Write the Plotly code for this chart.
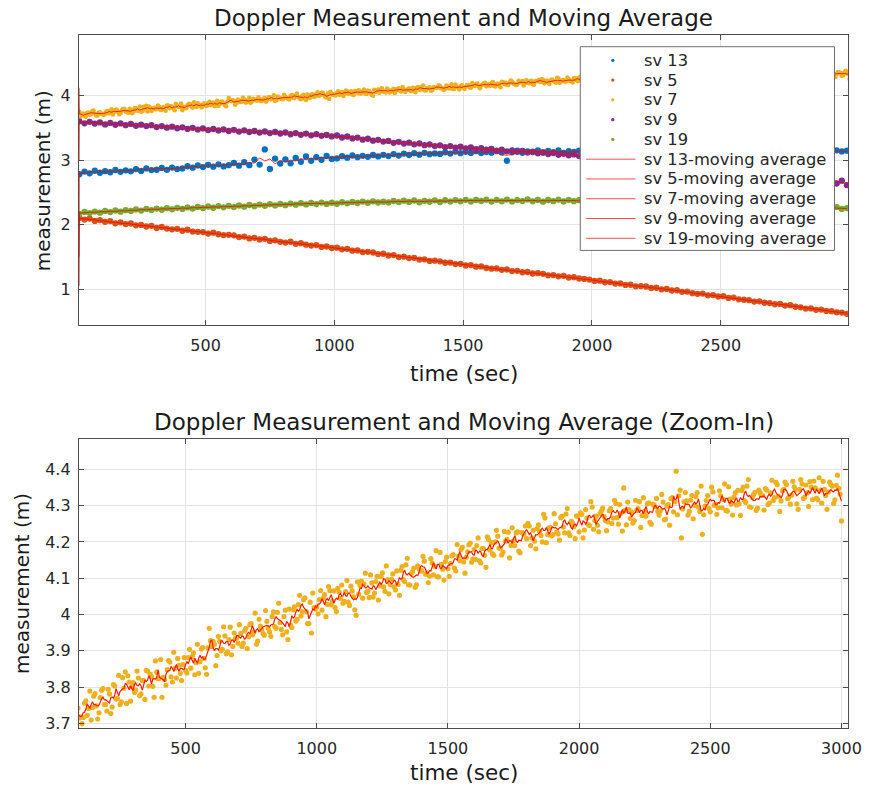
import plotly.graph_objects as go
import pandas as pd

# ---------------- data ----------------
series_names = ["sv 13", "sv 5", "sv 7", "sv 9", "sv 19"]
series_colors = ["#0072BD", "#D95319", "#EDB120", "#7E2F8E", "#77AC30"]

time_20s = list(range(10, 3000, 20))    # sample times of sv 13, sv 5, sv 9, sv 19
time_10s = list(range(10, 3001, 10))    # sample times of sv 7
time_10s_half = list(range(15, 3000, 10))  # intermediate sample times of sv 7

sv13 = [2.781, 2.823, 2.796, 2.835, 2.804, 2.829, 2.812, 2.847, 2.818, 2.842,
        2.826, 2.861, 2.833, 2.872, 2.845, 2.851, 2.879, 2.849, 2.884, 2.861,
        2.872, 2.905, 2.883, 2.918, 2.892, 2.927, 2.899, 2.935, 2.903, 2.921,
        2.955, 2.914, 2.968, 2.921, 3.008, 2.931, 3.166, 2.862, 3.024, 2.946,
        3.012, 2.951, 3.034, 2.973, 3.058, 2.989, 3.047, 3.006, 3.064, 3.018,
        3.027, 3.061, 3.038, 3.072, 3.045, 3.066, 3.051, 3.079, 3.058, 3.082,
        3.063, 3.094, 3.071, 3.101, 3.079, 3.108, 3.085, 3.113, 3.092, 3.104,
        3.096, 3.121, 3.102, 3.133, 3.107, 3.128, 3.112, 3.139, 3.109, 3.126,
        3.115, 3.138, 3.119, 2.990, 3.121, 3.146, 3.113, 3.137, 3.124, 3.149,
        3.118, 3.144, 3.125, 3.151, 3.112, 3.139, 3.127, 3.148, 3.116, 3.141,
        3.122, 3.147, 3.113, 3.138, 3.129, 3.152, 3.117, 3.143, 3.126, 3.135,
        3.119, 3.146, 3.124, 3.151, 3.115, 3.139, 3.128, 3.145, 3.121, 3.137,
        3.124, 3.149, 3.118, 3.142, 3.131, 3.155, 3.122, 3.146, 3.127, 3.141,
        3.128, 3.151, 3.123, 3.147, 3.136, 3.158, 3.125, 3.149, 3.132, 3.145,
        3.131, 3.156, 3.127, 3.149, 3.138, 3.161, 3.129, 3.152, 3.135, 3.147]

sv5 = [2.103, 2.079, 2.094, 2.058, 2.071, 2.043, 2.055, 2.021, 2.036, 2.009,
       2.018, 1.989, 1.996, 1.971, 1.982, 1.948, 1.963, 1.939, 1.927, 1.935,
       1.905, 1.921, 1.893, 1.889, 1.884, 1.862, 1.876, 1.851, 1.838, 1.842,
       1.834, 1.808, 1.815, 1.786, 1.795, 1.771, 1.780, 1.748, 1.757, 1.733,
       1.722, 1.735, 1.702, 1.712, 1.689, 1.676, 1.684, 1.655, 1.661, 1.638,
       1.643, 1.617, 1.625, 1.596, 1.601, 1.574, 1.579, 1.568, 1.543, 1.549,
       1.522, 1.528, 1.497, 1.505, 1.481, 1.486, 1.459, 1.463, 1.438, 1.442,
       1.431, 1.409, 1.412, 1.388, 1.392, 1.367, 1.374, 1.349, 1.352, 1.328,
       1.318, 1.322, 1.299, 1.305, 1.280, 1.284, 1.262, 1.266, 1.243, 1.247,
       1.238, 1.215, 1.219, 1.199, 1.207, 1.181, 1.186, 1.165, 1.158, 1.149,
       1.128, 1.131, 1.107, 1.110, 1.086, 1.089, 1.065, 1.068, 1.044, 1.047,
       1.041, 1.018, 1.022, 0.998, 1.004, 0.979, 0.983, 0.958, 0.962, 0.938,
       0.927, 0.931, 0.905, 0.909, 0.886, 0.891, 0.864, 0.869, 0.843, 0.836,
       0.829, 0.807, 0.812, 0.789, 0.784, 0.766, 0.771, 0.745, 0.751, 0.727,
       0.718, 0.699, 0.702, 0.679, 0.684, 0.662, 0.659, 0.641, 0.637, 0.618]

sv7 = [3.748, 3.712, 3.689, 3.731, 3.704, 3.755, 3.721, 3.693, 3.742, 3.718,
       3.716, 3.762, 3.741, 3.709, 3.775, 3.748, 3.729, 3.791, 3.752, 3.734,
       3.781, 3.745, 3.803, 3.769, 3.752, 3.826, 3.842, 3.831, 3.761, 3.812,
       3.792, 3.825, 3.781, 3.818, 3.846, 3.803, 3.829, 3.772, 3.841, 3.824,
       3.772, 3.821, 3.848, 3.869, 3.814, 3.852, 3.879, 3.838, 3.862, 3.846,
       3.881, 3.852, 3.894, 3.867, 3.838, 3.905, 3.879, 3.835, 3.962, 3.912,
       3.918, 3.887, 3.926, 3.904, 3.941, 3.897, 3.965, 3.912, 3.934, 3.921,
       3.948, 3.921, 3.962, 3.939, 3.975, 3.952, 3.918, 3.987, 3.959, 3.943,
       3.981, 3.952, 3.994, 3.967, 4.006, 3.978, 3.944, 4.012, 3.931, 3.971,
       4.013, 3.982, 4.027, 3.996, 4.041, 4.008, 3.975, 3.949, 4.019, 4.021,
       4.041, 4.012, 4.055, 4.028, 4.066, 4.037, 4.019, 4.072, 4.044, 4.031,
       4.063, 4.034, 4.078, 4.049, 3.998, 4.056, 4.092, 4.084, 4.061, 4.047,
       4.087, 4.059, 4.105, 4.079, 4.115, 4.064, 4.096, 4.082, 4.112, 4.068,
       4.083, 4.122, 4.096, 4.137, 4.082, 4.113, 4.128, 4.082, 4.126, 4.120,
       4.147, 4.115, 4.106, 4.142, 4.133, 4.104, 4.171, 4.125, 4.146, 4.126,
       4.140, 4.165, 4.120, 4.161, 4.179, 4.145, 4.158, 4.192, 4.144, 4.179,
       4.190, 4.148, 4.182, 4.163, 4.214, 4.178, 4.167, 4.200, 4.216, 4.183,
       4.172, 4.202, 4.227, 4.190, 4.203, 4.225, 4.175, 4.226, 4.221, 4.209,
       4.244, 4.211, 4.202, 4.237, 4.229, 4.200, 4.266, 4.220, 4.240, 4.220,
       4.250, 4.222, 4.267, 4.241, 4.277, 4.225, 4.257, 4.242, 4.272, 4.228,
       4.276, 4.233, 4.266, 4.245, 4.296, 4.259, 4.246, 4.278, 4.293, 4.259,
       4.255, 4.292, 4.266, 4.306, 4.249, 4.279, 4.349, 4.247, 4.289, 4.282,
       4.259, 4.287, 4.311, 4.273, 4.284, 4.305, 4.254, 4.304, 4.297, 4.284,
       4.286, 4.310, 4.263, 4.303, 4.319, 4.283, 4.395, 4.327, 4.211, 4.311,
       4.313, 4.284, 4.328, 4.301, 4.336, 4.284, 4.221, 4.299, 4.328, 4.283,
       4.338, 4.304, 4.294, 4.327, 4.317, 4.287, 4.352, 4.304, 4.323, 4.302,
       4.305, 4.342, 4.314, 4.354, 4.297, 4.323, 4.337, 4.293, 4.335, 4.328,
       4.347, 4.303, 4.335, 4.314, 4.364, 4.326, 4.313, 4.345, 4.358, 4.324,
       4.329, 4.352, 4.305, 4.345, 4.360, 4.323, 4.335, 4.366, 4.317, 4.349,
       4.316, 4.343, 4.367, 4.328, 4.338, 4.358, 4.306, 4.356, 4.348, 4.258]

sv7_half = [3.677, 3.721, 3.671, 3.738, 3.710, 3.770, 3.693, 3.735, 3.715,
            3.699, 3.756, 3.722, 3.789, 3.744, 3.782, 3.712, 3.771, 3.796, 3.752,
            3.794, 3.727, 3.807, 3.767, 3.832, 3.759, 3.797, 3.755, 3.814, 3.801,
            3.785, 3.844, 3.776, 3.818, 3.766, 3.844, 3.836, 3.802, 3.872, 3.823,
            3.876, 3.827, 3.805, 3.873, 3.828, 3.896, 3.825, 3.860, 3.818, 3.881,
            3.839, 3.904, 3.884, 3.834, 3.918, 3.870, 3.909, 3.853, 3.908, 3.928,
            3.926, 3.859, 3.940, 3.900, 3.966, 3.892, 3.931, 3.889, 3.949, 3.936,
            3.972, 3.912, 3.955, 3.906, 3.972, 3.944, 4.004, 3.927, 3.968, 3.948,
            4.011, 3.962, 3.940, 4.007, 3.962, 4.031, 3.959, 3.994, 3.952, 4.015,
            3.964, 4.021, 3.987, 4.053, 4.008, 4.046, 3.975, 4.034, 4.059, 4.015,
            4.002, 4.066, 4.045, 3.994, 4.077, 4.027, 4.065, 4.008, 4.062, 4.081,
            4.036, 4.094, 4.025, 4.065, 4.013, 4.090, 4.080, 4.045, 4.114, 4.064,
            4.109, 4.048, 4.091, 4.040, 4.105, 4.076, 4.134, 4.057, 4.097, 4.076,
            4.120, 4.053, 4.132, 4.091, 4.155, 4.081, 4.118, 4.075, 4.134, 4.120,
            4.160, 4.111, 4.088, 4.154, 4.109, 4.176, 4.104, 4.138, 4.095, 4.158,
            4.105, 4.162, 4.128, 4.193, 4.148, 4.185, 4.114, 4.173, 4.197, 4.153,
            4.152, 4.211, 4.142, 4.182, 4.130, 4.207, 4.198, 4.163, 4.232, 4.183,
            4.164, 4.229, 4.207, 4.156, 4.239, 4.190, 4.228, 4.170, 4.225, 4.244,
            4.251, 4.190, 4.232, 4.181, 4.247, 4.218, 4.276, 4.198, 4.238, 4.217,
            4.278, 4.228, 4.205, 4.271, 4.225, 4.292, 4.218, 4.252, 4.209, 4.271,
            4.280, 4.211, 4.289, 4.248, 4.311, 4.235, 4.271, 4.228, 4.285, 4.270,
            4.231, 4.286, 4.251, 4.315, 4.267, 4.303, 4.230, 4.287, 4.310, 4.265,
            4.252, 4.315, 4.292, 4.240, 4.322, 4.271, 4.308, 4.249, 4.302, 4.320,
            4.274, 4.331, 4.261, 4.300, 4.246, 4.322, 4.311, 4.275, 4.343, 4.291,
            4.336, 4.274, 4.315, 4.264, 4.325, 4.296, 4.354, 4.275, 4.314, 4.292,
            4.351, 4.301, 4.276, 4.341, 4.294, 4.360, 4.285, 4.318, 4.274, 4.335,
            4.342, 4.273, 4.351, 4.309, 4.372, 4.295, 4.331, 4.287, 4.343, 4.329,
            4.288, 4.343, 4.307, 4.370, 4.322, 4.358, 4.284, 4.341, 4.365, 4.319,
            4.304, 4.367, 4.343, 4.290, 4.372, 4.320, 4.357, 4.298, 4.351, 4.368,
            4.321, 4.377, 4.307, 4.345, 4.290, 4.365, 4.354, 4.316, 4.384, 4.332]

sv9 = [3.602, 3.571, 3.593, 3.566, 3.584, 3.553, 3.577, 3.548, 3.569, 3.541,
       3.561, 3.532, 3.549, 3.527, 3.541, 3.512, 3.528, 3.503, 3.519, 3.494,
       3.508, 3.483, 3.501, 3.474, 3.492, 3.466, 3.484, 3.459, 3.476, 3.451,
       3.469, 3.442, 3.462, 3.436, 3.451, 3.427, 3.444, 3.419, 3.436, 3.413,
       3.428, 3.401, 3.419, 3.392, 3.411, 3.384, 3.402, 3.376, 3.391, 3.368,
       3.382, 3.351, 3.366, 3.336, 3.349, 3.317, 3.331, 3.302, 3.314, 3.287,
       3.297, 3.268, 3.284, 3.256, 3.271, 3.245, 3.258, 3.231, 3.244, 3.217,
       3.229, 3.201, 3.218, 3.192, 3.207, 3.181, 3.196, 3.170, 3.186, 3.161,
       3.172, 3.148, 3.163, 3.137, 3.152, 3.128, 3.141, 3.117, 3.131, 3.106,
       3.118, 3.094, 3.109, 3.083, 3.097, 3.074, 3.088, 3.062, 3.078, 3.053,
       3.069, 3.041, 3.057, 3.031, 3.046, 3.019, 3.035, 3.008, 3.022, 2.997,
       3.009, 2.982, 2.998, 2.969, 2.984, 2.955, 2.971, 2.944, 2.957, 2.928,
       2.941, 2.903, 2.924, 2.889, 2.905, 2.872, 2.887, 2.854, 2.869, 2.836,
       2.852, 2.815, 2.834, 2.798, 2.813, 2.776, 2.795, 2.757, 2.774, 2.738,
       2.762, 2.708, 2.741, 2.682, 2.726, 2.664, 2.703, 2.638, 2.682, 2.611]

sv19 = [2.168, 2.196, 2.179, 2.203, 2.186, 2.212, 2.194, 2.219, 2.201, 2.224,
        2.211, 2.236, 2.218, 2.243, 2.226, 2.249, 2.231, 2.255, 2.237, 2.261,
        2.243, 2.267, 2.249, 2.274, 2.256, 2.281, 2.262, 2.287, 2.268, 2.291,
        2.272, 2.297, 2.279, 2.304, 2.286, 2.311, 2.292, 2.318, 2.298, 2.321,
        2.301, 2.327, 2.309, 2.333, 2.314, 2.337, 2.318, 2.342, 2.321, 2.339,
        2.324, 2.347, 2.331, 2.352, 2.335, 2.358, 2.339, 2.361, 2.343, 2.356,
        2.343, 2.366, 2.349, 2.371, 2.352, 2.374, 2.347, 2.369, 2.355, 2.377,
        2.351, 2.378, 2.357, 2.381, 2.362, 2.384, 2.359, 2.382, 2.366, 2.387,
        2.358, 2.384, 2.362, 2.389, 2.357, 2.381, 2.365, 2.391, 2.361, 2.383,
        2.356, 2.382, 2.363, 2.388, 2.359, 2.385, 2.364, 2.379, 2.355, 2.386,
        2.361, 2.384, 2.357, 2.379, 2.363, 2.386, 2.352, 2.376, 2.358, 2.381,
        2.349, 2.372, 2.352, 2.368, 2.343, 2.365, 2.339, 2.361, 2.336, 2.354,
        2.331, 2.354, 2.327, 2.349, 2.322, 2.341, 2.315, 2.336, 2.309, 2.327,
        2.302, 2.324, 2.296, 2.317, 2.289, 2.311, 2.285, 2.304, 2.277, 2.298,
        2.271, 2.293, 2.264, 2.286, 2.258, 2.279, 2.251, 2.272, 2.243, 2.256]

# first (start-up) value of each moving average, drawn at t = 9 s
ma_start_time = 9
ma_start = [2.0, 1.05, 4.12, 3.0, 1.5]

top_xticks = [500, 1000, 1500, 2000, 2500]
top_yticks = [1, 2, 3, 4]
bot_xticks = [500, 1000, 1500, 2000, 2500, 3000]
bot_yticks = [3.7, 3.8, 3.9, 4.0, 4.1, 4.2, 4.3, 4.4]
bot_yticklabels = ["3.7", "3.8", "3.9", "4", "4.1", "4.2", "4.3", "4.4"]

title_top = "Doppler Measurement and Moving Average"
title_bot = "Doppler Measurement and Moving Average (Zoom-In)"
xlabel = "time (sec)"
ylabel = "measurement (m)"
ma_suffix = "-moving average"

# ---------------- figure ----------------
W, H = 879, 791
FONT = "DejaVu Sans"
TXT = "#262626"


def px_x(x):
    return x / W


def px_y(y):
    return 1 - y / H


def moving_average(vals, win):
    return list(pd.Series(vals).rolling(win, center=True, min_periods=1).mean())


sv7_pairs = sorted(zip(time_10s + time_10s_half, sv7 + sv7_half))
sv7_time = [p[0] for p in sv7_pairs]
sv7_all = [p[1] for p in sv7_pairs]

series_values = [sv13, sv5, sv7_all, sv9, sv19]
series_times = [time_20s, time_20s, sv7_time, time_20s, time_20s]
series_msize = [6.3, 6.3, 4.6, 6.3, 6.3]
ma_windows = [3, 3, 5, 3, 3]

fig = go.Figure()

for name, col, tt, vv, ms in zip(series_names, series_colors, series_times,
                                 series_values, series_msize):
    fig.add_trace(go.Scatter(
        x=tt, y=vv, mode="markers", name=name, showlegend=False,
        marker=dict(color=col, size=ms, line=dict(width=0)),
        xaxis="x", yaxis="y"))

for name, st, tt, vv, win in zip(series_names, ma_start, series_times,
                                 series_values, ma_windows):
    fig.add_trace(go.Scatter(
        x=[ma_start_time] + list(tt), y=[st] + moving_average(vv, win), mode="lines",
        name=name + ma_suffix, showlegend=False,
        line=dict(color="rgba(255,0,0,0.8)", width=1),
        xaxis="x", yaxis="y"))

# zoom-in panel (sv 7)
fig.add_trace(go.Scatter(
    x=sv7_time, y=sv7_all, mode="markers", name="sv 7", showlegend=False,
    marker=dict(color="#EDB120", size=5.2, line=dict(width=0)),
    xaxis="x2", yaxis="y2"))
fig.add_trace(go.Scatter(
    x=sv7_time, y=moving_average(sv7_all, 5), mode="lines", name="sv 7" + ma_suffix,
    showlegend=False, line=dict(color="#FF1a00", width=1.2),
    xaxis="x2", yaxis="y2"))

xdom = [px_x(80), px_x(861)]
ydom_top = [px_y(326.7), px_y(35.5)]
ydom_bot = [px_y(732.7), px_y(441.7)]

axis_common = dict(
    showline=True, linecolor="#4d4d4d", linewidth=1, mirror="ticks",
    ticks="inside", ticklen=5, tickcolor="#4d4d4d", tickwidth=1,
    showgrid=True, gridcolor="#e3e3e3", gridwidth=1, zeroline=False,
    tickfont=dict(family=FONT, size=16, color=TXT),
)

fig.update_layout(
    width=W, height=H,
    margin=dict(l=0, r=0, t=0, b=0),
    paper_bgcolor="white", plot_bgcolor="white",
    font=dict(family=FONT, color=TXT),
    xaxis=dict(domain=xdom, anchor="y", range=[8, 2995], tickvals=top_xticks,
               ticklabelstandoff=6, **axis_common),
    yaxis=dict(domain=ydom_top, anchor="x", range=[0.45, 4.935], tickvals=top_yticks,
               ticklabelstandoff=4, **axis_common),
    xaxis2=dict(domain=xdom, anchor="y2", range=[93, 3026], tickvals=bot_xticks,
                ticklabelstandoff=6, **axis_common),
    yaxis2=dict(domain=ydom_bot, anchor="x2", range=[3.687, 4.484], tickvals=bot_yticks,
                ticktext=bot_yticklabels, ticklabelstandoff=4, **axis_common),
    showlegend=False,
)

# ---- legend box (drawn like the MATLAB legend) ----
shapes = [dict(type="rect", xref="paper", yref="paper",
               x0=px_x(589), x1=px_x(847), y0=px_y(252), y1=px_y(47),
               fillcolor="white", line=dict(color="#6e6e6e", width=1), layer="above")]
row_y = [60.7 + 19.9 * i for i in range(10)]
legend_labels = series_names + [n + ma_suffix for n in series_names]
for i, lab in enumerate(legend_labels):
    yy = row_y[i]
    if i < 5:
        shapes.append(dict(type="circle", xref="paper", yref="paper",
                           x0=px_x(620.3), x1=px_x(623.7), y0=px_y(yy + 1.7), y1=px_y(yy - 1.7),
                           fillcolor=series_colors[i], line=dict(width=0), layer="above"))
    else:
        shapes.append(dict(type="line", xref="paper", yref="paper",
                           x0=px_x(595), x1=px_x(645), y0=px_y(yy), y1=px_y(yy),
                           line=dict(color="#ff4a4a", width=1), layer="above"))
    fig.add_annotation(text=lab, x=px_x(652), y=px_y(yy), xref="paper", yref="paper",
                       xanchor="left", yanchor="middle", showarrow=False,
                       font=dict(family=FONT, size=16.3, color=TXT))
fig.update_layout(shapes=shapes)

xc = (xdom[0] + xdom[1]) / 2
annots = [
    dict(text=title_top, x=xc, y=px_y(18), size=23),
    dict(text=title_bot, x=xc, y=px_y(425), size=23),
    dict(text=xlabel, x=xc, y=px_y(376), size=21.5),
    dict(text=xlabel, x=xc, y=px_y(777), size=21.5),
]
for a in annots:
    fig.add_annotation(text=a["text"], x=a["x"], y=a["y"], xref="paper", yref="paper",
                       xanchor="center", yanchor="middle", showarrow=False,
                       font=dict(family=FONT, size=a["size"], color="#1a1a1a"))
for xp, yp in [(px_x(43), px_y(182)), (px_x(23), px_y(587))]:
    fig.add_annotation(text=ylabel, x=xp, y=yp, xref="paper", yref="paper",
                       xanchor="center", yanchor="middle", showarrow=False, textangle=-90,
                       font=dict(family=FONT, size=20, color="#1a1a1a"))

fig.write_html("out.html")
